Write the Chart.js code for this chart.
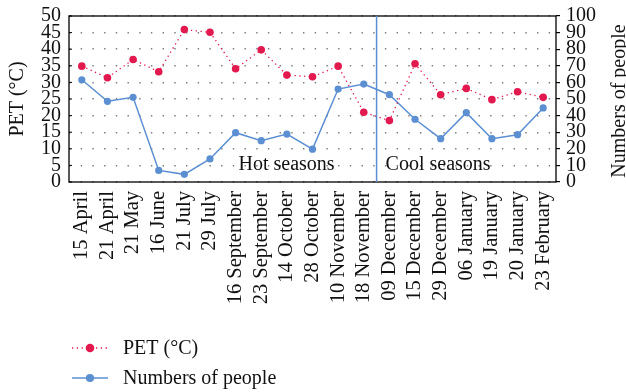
<!DOCTYPE html>
<html lang="en">
<head>
    <meta charset="UTF-8">
    <title>PET and numbers of people</title>
    <script src="https://cdn.jsdelivr.net/npm/chart.js"></script>
    <style>
        html, body {
            margin: 0;
            padding: 0;
            background: #fff;
        }
        canvas {
            display: block;
        }
    </style>
</head>
<body>
    <canvas id="petChart" width="626" height="392"></canvas>

    <script>
        const dates = ['15 April', '21 April', '21 May', '16 June', '21 July', '29 July',
            '16 September', '23 September', '14 October', '28 October', '10 November',
            '18 November', '09 December', '15 December', '29 December', '06 January',
            '19 January', '20 January', '23 February'];
        const petValues = [34.9, 31.4, 36.9, 33.2, 45.9, 45.1, 34.1, 39.8, 32.2, 31.7,
            34.9, 21.0, 18.5, 35.6, 26.3, 28.2, 24.8, 27.2, 25.5];
        const peopleValues = [61.6, 48.6, 51.0, 7.0, 4.6, 13.9, 29.7, 24.9, 28.9, 19.8,
            56.0, 59.0, 52.6, 37.8, 26.1, 41.8, 26.1, 28.5, 44.6];
        const petTicks = [0, 5, 10, 15, 20, 25, 30, 35, 40, 45, 50];
        const peopleTicks = [0, 10, 20, 30, 40, 50, 60, 70, 80, 90, 100];
        // the hot/cool split falls between 18 November and 09 December
        const seasonSplitAfter = '18 November';

        const RED = '#e2194f';
        const BLUE = '#5b8fd2';
        const SERIF = "'Liberation Serif', 'DejaVu Serif', serif";

        // solid frame around the plot, season divider and its labels
        const seasonsPlugin = {
            id: 'seasons',
            afterDatasetsDraw(chart) {
                const { ctx, chartArea: a, scales: { x } } = chart;
                const i = dates.indexOf(seasonSplitAfter);
                const splitX = (x.getPixelForValue(i) + x.getPixelForValue(i + 1)) / 2;
                ctx.save();
                ctx.strokeStyle = '#000';
                ctx.lineWidth = 1.3;
                ctx.strokeRect(a.left, a.top, a.right - a.left, a.bottom - a.top);

                // short inward ticks on the left axis
                ctx.lineWidth = 1;
                chart.scales.y.ticks.forEach(t => {
                    const ty = chart.scales.y.getPixelForValue(t.value);
                    ctx.beginPath();
                    ctx.moveTo(a.left, ty);
                    ctx.lineTo(a.left + 3, ty);
                    ctx.stroke();
                });

                ctx.strokeStyle = BLUE;
                ctx.lineWidth = 1.5;
                ctx.beginPath();
                ctx.moveTo(splitX, a.top);
                ctx.lineTo(splitX, a.bottom);
                ctx.stroke();

                ctx.fillStyle = '#111';
                ctx.font = '20px ' + SERIF;
                ctx.textBaseline = 'alphabetic';
                ctx.textAlign = 'right';
                ctx.fillText('Hot seasons', splitX - 42, a.bottom - 12);
                ctx.textAlign = 'left';
                ctx.fillText('Cool seasons', splitX + 9, a.bottom - 12);
                ctx.restore();
            }
        };

        // right axis title (reads bottom to top) and the stacked legend below
        const sideTextPlugin = {
            id: 'sideText',
            afterDraw(chart) {
                const { ctx, chartArea: a, scales: { x } } = chart;
                ctx.save();
                ctx.fillStyle = '#111';
                ctx.font = '20px ' + SERIF;
                ctx.translate(625, (a.top + a.bottom) / 2 + 2);
                ctx.rotate(-Math.PI / 2);
                ctx.textAlign = 'center';
                ctx.textBaseline = 'alphabetic';
                ctx.fillText('Numbers of people', 0, 0);
                ctx.restore();

                const rows = [x.bottom + 26, x.bottom + 56];
                chart.data.datasets.forEach((ds, k) => {
                    const y = rows[k];
                    ctx.save();
                    ctx.strokeStyle = ds.borderColor;
                    ctx.lineWidth = ds.borderWidth;
                    ctx.setLineDash(ds.borderDash || []);
                    ctx.beginPath();
                    ctx.moveTo(72, y);
                    ctx.lineTo(108, y);
                    ctx.stroke();
                    ctx.setLineDash([]);
                    ctx.fillStyle = ds.pointBackgroundColor;
                    ctx.beginPath();
                    ctx.arc(90, y, ds.pointRadius + 0.5, 0, Math.PI * 2);
                    ctx.fill();
                    ctx.fillStyle = '#111';
                    ctx.font = '20px ' + SERIF;
                    ctx.textAlign = 'left';
                    ctx.textBaseline = 'middle';
                    ctx.fillText(ds.label, 123, y + 1);
                    ctx.restore();
                });
            }
        };

        const ctx = document.getElementById('petChart').getContext('2d');
        new Chart(ctx, {
            type: 'line',
            data: {
                labels: dates,
                datasets: [{
                    label: 'PET (°C)',
                    data: petValues,
                    yAxisID: 'y',
                    borderColor: RED,
                    borderWidth: 1.3,
                    borderDash: [1.3, 3.5],
                    pointRadius: 3.8,
                    pointBackgroundColor: RED,
                    pointBorderWidth: 0,
                    tension: 0
                }, {
                    label: 'Numbers of people',
                    data: peopleValues,
                    yAxisID: 'y1',
                    borderColor: BLUE,
                    borderWidth: 1.5,
                    pointRadius: 3.6,
                    pointBackgroundColor: BLUE,
                    pointBorderWidth: 0,
                    tension: 0
                }]
            },
            options: {
                responsive: false,
                animation: false,
                devicePixelRatio: 1,
                layout: {
                    padding: { top: 15, bottom: 70 }
                },
                plugins: {
                    legend: { display: false },
                    tooltip: { enabled: false }
                },
                scales: {
                    x: {
                        offset: true,
                        grid: { display: false, drawTicks: false },
                        border: { display: false },
                        ticks: {
                            autoSkip: false,
                            minRotation: 90,
                            maxRotation: 90,
                            padding: 9,
                            color: '#111',
                            font: { family: SERIF, size: 20.5 }
                        },
                        afterFit(scale) { scale.height = 140; }
                    },
                    y: {
                        position: 'left',
                        min: 0,
                        max: 50,
                        afterBuildTicks(scale) {
                            scale.ticks = petTicks.map(v => ({ value: v }));
                        },
                        grid: {
                            color: '#7a7a7a',
                            lineWidth: 1.4,
                            drawTicks: false
                        },
                        // in v4 the dash for grid lines lives under border
                        border: { display: false, dash: [1.4, 10.3], dashOffset: 0 },
                        ticks: {
                            autoSkip: false,
                            padding: 8,
                            color: '#111',
                            font: { family: SERIF, size: 20, lineHeight: 0.8 }
                        },
                        title: {
                            display: true,
                            text: 'PET (°C)',
                            color: '#111',
                            padding: { top: 6, bottom: 0 },
                            font: { family: SERIF, size: 20 }
                        },
                        afterFit(scale) { scale.width = 69; }
                    },
                    y1: {
                        position: 'right',
                        min: 0,
                        max: 100,
                        afterBuildTicks(scale) {
                            scale.ticks = peopleTicks.map(v => ({ value: v }));
                        },
                        grid: {
                            drawOnChartArea: false,
                            drawTicks: true,
                            tickLength: 4,
                            color: '#000',
                            lineWidth: 1.2
                        },
                        border: { display: false },
                        ticks: {
                            autoSkip: false,
                            padding: 6,
                            color: '#111',
                            font: { family: SERIF, size: 20, lineHeight: 0.8 }
                        },
                        afterFit(scale) { scale.width = 70; }
                    }
                }
            },
            plugins: [seasonsPlugin, sideTextPlugin]
        });
    </script>
</body>
</html>
